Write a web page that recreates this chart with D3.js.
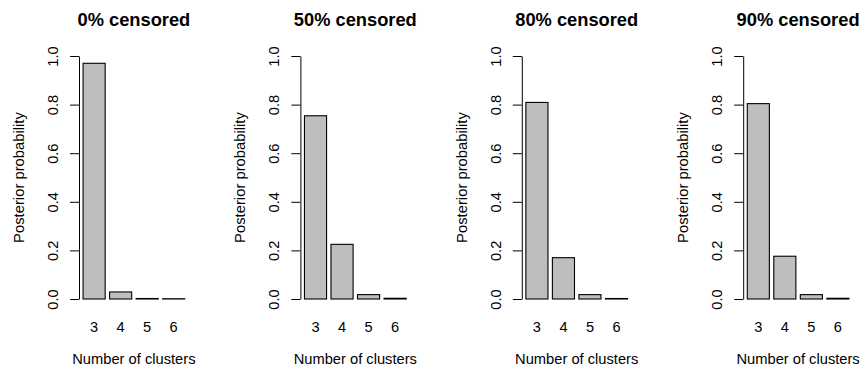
<!DOCTYPE html>
<html>
<head>
<meta charset="utf-8">
<script src="https://cdn.jsdelivr.net/npm/d3@7"></script>
<style>
	body { margin: 0; background: #fff; }
	text { font-family: "Liberation Sans", Arial, sans-serif; fill: #000; }
</style>
</head>
<body>
<script>
"use strict"

const titles = ['0% censored', '50% censored', '80% censored', '90% censored'];
const clusters = ['3', '4', '5', '6'];
const yTicks = [0, 0.2, 0.4, 0.6, 0.8, 1.0];

// posterior probability for each number of clusters
const probs0 = [0.970, 0.029, 0.002, 0.001];
const probs50 = [0.754, 0.225, 0.018, 0.003];
const probs80 = [0.809, 0.170, 0.018, 0.002];
const probs90 = [0.804, 0.176, 0.018, 0.003];
const series = [probs0, probs50, probs80, probs90];

const w = 861;
const h = 370;
const firstAxis = 79;
const step = 221.4;
const plotW = 109.8;
const yTop = 56;
const yBottom = 299;
const font = '"Liberation Sans", Arial, sans-serif';

const mySvg = d3.select('body')
		.append('svg')
		.attr('width', w)
		.attr('height', h);

const yScale = d3.scaleLinear()
	.domain([0, 1])
	.range([yBottom, yTop]);

series.forEach((values, k) => {
	const x0 = firstAxis + step * k;
	draw(values, titles[k], x0);
});

function draw(values, title, x0) {
	const g = mySvg.append('g');

	const xScale = d3.scaleBand()
		.domain(clusters)
		.range([x0, x0 + plotW])
		.paddingInner(1 / 6)
		.paddingOuter(0.1533);

	const mid = x0 + plotW / 2;

	// y axis, labels turned along the axis like R
	const yAxis = d3.axisLeft(yScale)
		.tickValues(yTicks)
		.tickFormat(d3.format('.1f'))
		.tickSize(9)
		.tickSizeOuter(0);

	const ya = g.append('g')
		.attr('transform', 'translate(' + x0 + ',0)')
		.call(yAxis);
	ya.select('.domain').attr('stroke', '#000').attr('stroke-width', 1);
	ya.selectAll('line').attr('stroke', '#000').attr('stroke-width', 1);
	ya.selectAll('text')
		.attr('transform', 'rotate(-90)')
		.attr('x', 0)
		.attr('y', -21)
		.attr('dy', null)
		.attr('text-anchor', 'middle')
		.style('font-size', '14.6px')
		.style('font-family', font);

	// bars
	g.selectAll('rect')
		.data(values)
		.enter()
		.append('rect')
		.attr('x', (d, i) => xScale(clusters[i]))
		.attr('y', d => yScale(d))
		.attr('width', xScale.bandwidth())
		.attr('height', d => yScale(0) - yScale(d))
		.attr('fill', '#bebebe')
		.attr('stroke', '#000')
		.attr('stroke-width', 1.1);

	// x labels without axis line
	const xa = g.append('g')
		.attr('transform', 'translate(0,' + yBottom + ')')
		.call(d3.axisBottom(xScale).tickSize(0));
	xa.select('.domain').remove();
	xa.selectAll('text')
		.attr('y', 32.7)
		.attr('dy', null)
		.style('font-size', '14.6px')
		.style('font-family', font);

	g.append('text')
		.attr('x', mid)
		.attr('y', 26.3)
		.attr('text-anchor', 'middle')
		.style('font-size', '18.3px')
		.style('font-weight', 'bold')
		.text(title);

	g.append('text')
		.attr('x', mid)
		.attr('y', 363.5)
		.attr('text-anchor', 'middle')
		.style('font-size', '14.7px')
		.text('Number of clusters');

	g.append('text')
		.attr('transform', 'translate(' + (x0 - 55) + ',' + ((yTop + yBottom) / 2) + ') rotate(-90)')
		.attr('text-anchor', 'middle')
		.style('font-size', '14.8px')
		.text('Posterior probability');
}
</script>
</body>
</html>
